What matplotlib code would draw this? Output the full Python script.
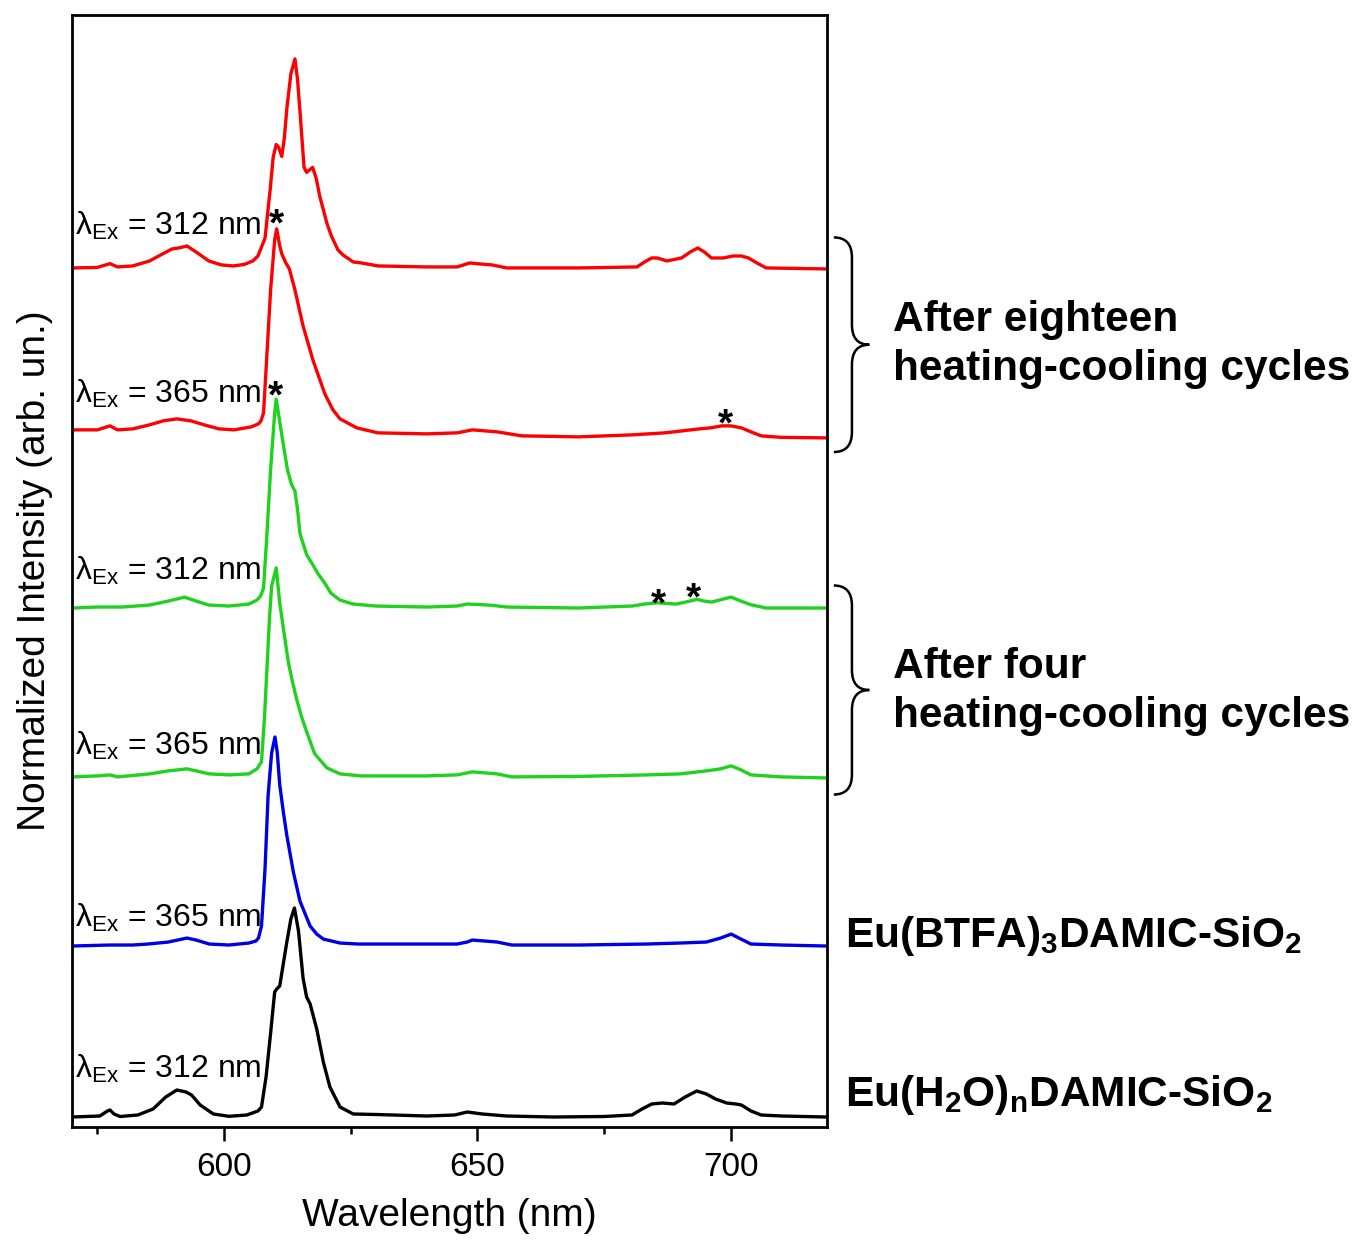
import matplotlib
matplotlib.use("Agg")
import matplotlib.pyplot as plt
from matplotlib.path import Path
from matplotlib.patches import PathPatch
import numpy as np

plt.rcParams['font.family'] = ['Liberation Sans', 'DejaVu Sans']
plt.rcParams['mathtext.fontset'] = 'custom'
plt.rcParams['mathtext.rm'] = 'Liberation Sans'
plt.rcParams['mathtext.it'] = 'Liberation Sans:italic'
plt.rcParams['mathtext.bf'] = 'Liberation Sans:bold'

# ---- spectra (wavelength in nm, intensity in arb. units) ----
h2o_312_wl = [570.1, 575.5, 577.0, 577.5, 578.3, 579.5, 583.0, 586.0, 588.5, 590.7, 592.5, 593.6,
              595.3, 597.9, 601.0, 604.5, 606.7, 607.4, 608.3, 609.2, 610.0, 610.4, 611.0, 611.6,
              612.4, 613.2, 613.9, 614.7, 615.6, 616.3, 617.0, 618.3, 619.6, 620.9, 622.9, 625.5,
              630.0, 640.0, 645.5, 648.0, 651.0, 655.8, 665.0, 675.0, 680.5, 682.5, 684.4, 686.5,
              688.8, 691.0, 693.3, 695.2, 697.0, 699.2, 701.0, 702.1, 704.0, 706.0, 710.0, 718.7]
h2o_312_int = [0, 1, 6, 7, 3, 0.5, 2, 8, 20, 27, 25, 22,
               12, 3, 0.7, 2, 6, 10, 40, 84, 125, 128, 131, 150,
               175, 198, 209, 186, 139, 120, 113, 88, 55, 30, 10, 3,
               2.5, 1, 2, 5, 3, 1, 0, 0.5, 2, 8, 13, 14,
               13, 20, 26, 23, 18, 14, 13, 12, 6, 2, 1, 0]

btfa_365_wl = [570.1, 577.5, 582.0, 585.0, 589.0, 592.7, 594.5, 597.1, 601.0, 604.9, 606.3, 606.8,
               607.4, 608.1, 608.7, 609.4, 610.06, 610.5, 611.0, 611.7, 612.4, 613.7, 615.0, 617.0,
               618.3, 619.6, 622.9, 626.4, 635.0, 646.0, 648.0, 649.0, 651.5, 653.9, 656.8, 670.0,
               683.4, 690.0, 695.2, 698.0, 700.1, 702.0, 704.0, 710.0, 718.7]
btfa_365_int = [0, 1, 1, 2, 4, 8, 6, 2, 1, 3, 5, 8,
                20, 78, 151, 194, 210, 195, 162, 135, 111, 74, 45, 20,
                12, 7, 3, 2, 2, 2, 4, 6, 5, 4, 1, 1,
                2, 3, 4, 8, 12, 7, 2, 1, 0]

four_365_wl = [570.1, 575.0, 577.5, 579.0, 585.3, 589.0, 592.7, 594.5, 597.1, 601.0, 604.9, 606.5,
               607.4, 608.0, 608.4, 609.0, 609.4, 610.3, 611.0, 611.8, 612.7, 613.5, 614.3, 615.3,
               616.3, 617.9, 620.3, 622.9, 627.0, 640.0, 646.0, 649.0, 651.5, 653.9, 656.8, 670.0,
               683.4, 690.0, 695.2, 698.0, 700.1, 702.0, 704.0, 710.0, 718.7]
four_365_int = [0, 1, 2, 0, 3, 6, 8, 6, 3, 2, 3, 8,
                15, 60, 100, 160, 190, 208, 173, 145, 114, 95, 78, 60,
                45, 23, 9, 3, 1, 1, 2, 5, 4, 3, 0, 0.5,
                2, 3, 6, 8, 11, 7, 2, 0, -1]

four_312_wl = [570.1, 575.0, 577.5, 580.0, 585.3, 589.0, 592.2, 594.5, 597.0, 601.0, 604.9, 606.5,
               607.2, 607.8, 608.4, 609.2, 610.0, 610.3, 611.4, 612.5, 613.3, 614.0, 614.5, 615.0,
               616.3, 617.6, 618.5, 619.9, 621.1, 622.9, 625.5, 630.0, 640.0, 646.0, 648.0, 650.5,
               652.9, 655.8, 670.0, 680.5, 683.0, 685.4, 687.5, 689.3, 691.5, 693.3, 694.8, 696.2,
               698.5, 700.1, 702.0, 704.0, 707.0, 718.7]
four_312_int = [0, 1, 1, 1, 3, 7, 11, 7, 3, 2, 4, 8,
                12, 20, 68, 140, 197, 211, 175, 140, 125, 118, 100, 75,
                54, 43, 35, 25, 15, 8, 4, 2, 1, 2, 4, 3.5,
                2.7, 1, 0, 2, 4, 5.3, 4.5, 4, 6.5, 8.7, 7, 6,
                9, 11, 7, 3.3, 0, 0]

eighteen_365_wl = [570.1, 575.0, 577.5, 579.0, 582.0, 585.3, 588.0, 590.7, 593.5, 596.1, 599.0, 602.0,
                   605.4, 606.8, 607.3, 607.8, 608.4, 609.2, 610.0, 610.4, 611.0, 611.4, 612.2, 612.9,
                   614.0, 615.6, 617.6, 619.9, 621.5, 622.9, 626.2, 630.4, 640.0, 646.0, 649.0, 651.5,
                   653.9, 658.8, 670.0, 680.5, 687.0, 693.3, 696.0, 698.2, 700.0, 702.1, 704.0, 706.0,
                   710.0, 718.7]
eighteen_365_int = [8, 8, 12, 8, 9, 13, 17, 19, 17, 13, 9, 8,
                    11, 14, 17, 25, 77, 148, 198, 209, 192, 184, 175, 169,
                    148, 112, 77, 44, 28, 19, 10, 5, 4, 5, 8, 7,
                    6, 2, 1, 3, 5, 8.7, 10, 12, 12, 10, 6, 2,
                    0.5, 0]

eighteen_312_wl = [570.1, 575.0, 577.5, 579.0, 582.0, 585.3, 587.5, 589.7, 591.0, 592.7, 594.5, 597.0,
                   599.5, 601.8, 604.0, 605.7, 606.7, 607.4, 608.1, 609.1, 609.7, 610.3, 610.8, 611.4,
                   611.9, 612.4, 613.2, 614.0, 614.5, 615.0, 615.8, 616.3, 617.0, 617.5, 618.2, 618.9,
                   620.3, 621.2, 622.5, 623.5, 625.5, 627.1, 630.4, 640.0, 646.0, 648.5, 650.5, 652.9,
                   655.8, 670.0, 681.5, 683.0, 684.4, 685.5, 687.4, 690.3, 692.0, 693.5, 694.8, 696.2,
                   698.5, 700.5, 702.1, 703.5, 705.5, 707.0, 718.7]
eighteen_312_int = [0, 0.5, 4.3, 1, 2, 7, 13, 19, 20, 22, 16, 7,
                    3, 2, 3.5, 7, 12, 21, 30, 78, 111, 124, 121, 112,
                    130, 160, 195, 210, 190, 157, 101, 96, 99, 101, 90, 72,
                    45, 32, 18, 13, 6, 5, 2, 1, 1, 5, 4, 3,
                    0, 0, 1, 6, 10, 10, 7, 10, 16, 20, 16, 10,
                    10, 12, 12, 10, 4, 0, -1]

# bottom to top
spectra = [
    (h2o_312_wl, h2o_312_int, 'black', '312'),
    (btfa_365_wl, btfa_365_int, '#0000e6', '365'),
    (four_365_wl, four_365_int, '#1ed21e', '365'),
    (four_312_wl, four_312_int, '#1ed21e', '312'),
    (eighteen_365_wl, eighteen_365_int, '#ff0000', '365'),
    (eighteen_312_wl, eighteen_312_int, '#ff0000', '312'),
]
offsets = [0.048, 0.866, 1.675, 2.483, 3.297, 4.11]
label_y = [0.234, 0.957, 1.780, 2.617, 3.464, 4.268]

# asterisks marking features (wavelength, height in plot units)
star_pos = [(610.3, 4.265), (610.2, 3.44), (698.9, 3.31), (685.8, 2.445), (692.6, 2.475)]

fig = plt.figure(figsize=(13.58, 12.40), dpi=100)
ax = fig.add_axes([0.0530, 0.0911, 0.5560, 0.8968])

for (wl, inten, col, ex), off, ly in zip(spectra, offsets, label_y):
    inten = np.array(inten, dtype=float)
    ax.plot(wl, inten / inten.max() + off, color=col, lw=2.4,
            solid_joinstyle='round')
    ax.text(570.6, ly, r'$\mathregular{\lambda_{Ex}}$ = ' + ex + ' nm',
            fontsize=23, ha='left', va='baseline')

for sx, sy in star_pos:
    ax.text(sx, sy, '*', fontsize=28, fontweight='bold', ha='center', va='baseline')

ax.set_xlim(570, 719)
ax.set_ylim(0, 5.32)
ax.set_xticks([600, 650, 700])
ax.set_xticks([575, 625, 675], minor=True)
ax.set_yticks([])
ax.tick_params(axis='x', which='major', direction='out', length=10, width=1.8,
               labelsize=24, pad=8)
ax.tick_params(axis='x', which='minor', direction='out', length=5, width=1.8)
for sp in ax.spines.values():
    sp.set_linewidth(2)
ax.set_xlabel('Wavelength (nm)', fontsize=28, labelpad=11)
ax.set_ylabel('Normalized Intensity (arb. un.)', fontsize=28, labelpad=14)


def brace(x0, xm, xt, ytop, ybot):
    ymid = (ytop + ybot) / 2
    r = 0.018
    verts = [(x0, ytop), (xm, ytop), (xm, ytop - r),
             (xm, ymid + r), (xm, ymid), (xt, ymid),
             (xm, ymid), (xm, ymid - r),
             (xm, ybot + r), (xm, ybot), (x0, ybot)]
    codes = [Path.MOVETO, Path.CURVE3, Path.CURVE3,
             Path.LINETO, Path.CURVE3, Path.CURVE3,
             Path.CURVE3, Path.CURVE3,
             Path.LINETO, Path.CURVE3, Path.CURVE3]
    patch = PathPatch(Path(verts, codes), transform=ax.transAxes, fill=False,
                      lw=1.8, color='black', clip_on=False)
    ax.add_patch(patch)


brace(1.009, 1.033, 1.056, 0.800, 0.607)
brace(1.009, 1.033, 1.056, 0.487, 0.299)

bold = dict(fontsize=30.5, fontweight='bold', ha='left', va='baseline')
fig.text(0.6576, 1 - 331 / 1240, 'After eighteen', **bold)
fig.text(0.6576, 1 - 380 / 1240, 'heating-cooling cycles', **bold)
fig.text(0.6576, 1 - 678 / 1240, 'After four', **bold)
fig.text(0.6576, 1 - 727 / 1240, 'heating-cooling cycles', **bold)
fig.text(0.6222, 1 - 947 / 1240, r'Eu(BTFA)$_\mathbf{3}$DAMIC-SiO$_\mathbf{2}$', **bold)
fig.text(0.6222, 1 - 1106 / 1240, r'Eu(H$_\mathbf{2}$O)$_\mathbf{n}$DAMIC-SiO$_\mathbf{2}$', **bold)

fig.savefig('out.png', dpi=100)
